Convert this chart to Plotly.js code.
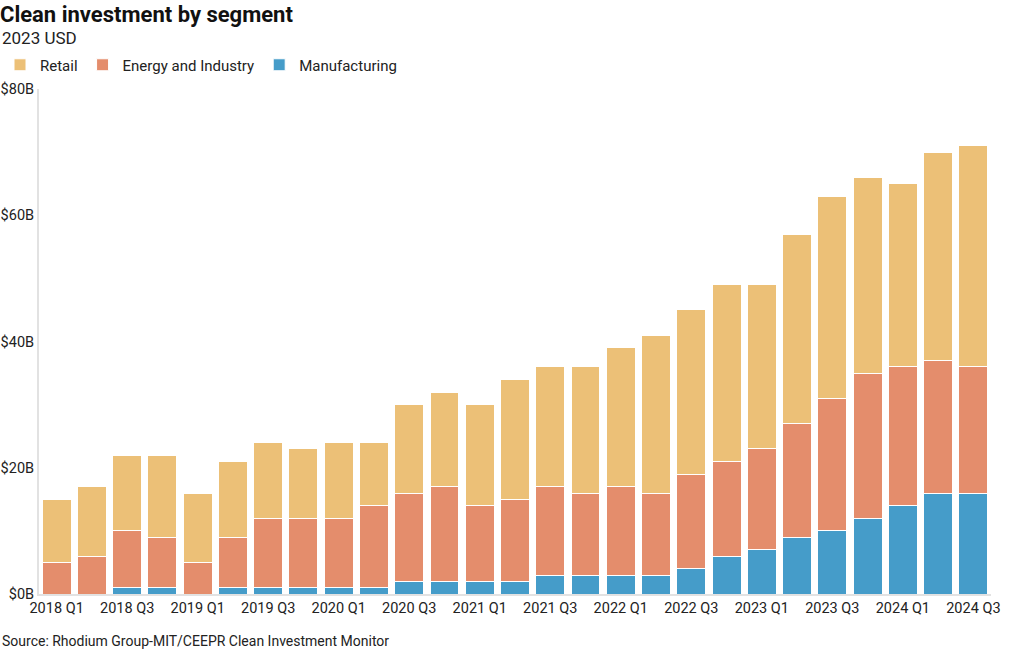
<!DOCTYPE html>
<html>
<head>
<meta charset="utf-8">
<script src="https://cdn.plot.ly/plotly-3.0.1.min.js"></script>
<style>html,body{margin:0;padding:0;background:#fff;}#chart{width:1020px;height:650px;}</style>
</head>
<body>
<div id="chart"></div>
<script>
const quarters = ["2018 Q1","2018 Q2","2018 Q3","2018 Q4","2019 Q1","2019 Q2","2019 Q3","2019 Q4",
  "2020 Q1","2020 Q2","2020 Q3","2020 Q4","2021 Q1","2021 Q2","2021 Q3","2021 Q4",
  "2022 Q1","2022 Q2","2022 Q3","2022 Q4","2023 Q1","2023 Q2","2023 Q3","2023 Q4",
  "2024 Q1","2024 Q2","2024 Q3"];
const manufacturing = [0,0,1,1,0,1,1,1,1,1,2,2,2,2,3,3,3,3,4,6,7,9,10,12,14,16,16];
const energyIndustry = [5,6,9,8,5,8,11,11,11,13,14,15,12,13,14,13,14,13,15,15,16,18,21,23,22,21,20];
const retail = [10,11,12,13,11,12,12,11,12,10,14,15,16,19,19,20,22,25,26,28,26,30,32,31,29,33,35];
const yTicks = [0,20,40,60,80];
const yTickLabels = yTicks.map(v => '$' + v + 'B');
const xTickLabels = quarters.filter((q,i)=>i%2===0);

const FONT = "Roboto, 'Noto Sans', sans-serif";
const W = 1020, H = 650;
const M = {l:39, r:29, t:89, b:56};
const plotW = W - M.l - M.r, plotH = H - M.t - M.b;
const px2x = p => (p - M.l)/plotW;
const px2y = p => (H - M.b - p)/plotH;

const line = {color:'#ffffff', width:1};
const traces = [
  {type:'bar', name:'Manufacturing', x:quarters, y:manufacturing, marker:{color:'#459CC9', line:line}},
  {type:'bar', name:'Energy and Industry', x:quarters, y:energyIndustry, marker:{color:'#E48D6C', line:line}},
  {type:'bar', name:'Retail', x:quarters, y:retail, marker:{color:'#ECC077', line:line}}
];

const layout = {
  width:W, height:H,
  margin:M,
  paper_bgcolor:'#fff', plot_bgcolor:'#fff',
  barmode:'stack', bargap:0.18,
  font:{family:FONT, size:14, color:'#222'},
  title:{text:'<b>Clean investment by segment</b>', font:{family:FONT, size:22, color:'#111'},
         x:0, xref:'container', xanchor:'left', y:1-14/H, yref:'container', yanchor:'middle'},
  legend:{orientation:'h', traceorder:'reversed', xref:'container', yref:'container',
          x:-28/W, xanchor:'left', y:1-65/H, yanchor:'middle',
          font:{family:FONT, size:15, color:'#222'}, bgcolor:'rgba(0,0,0,0)', itemwidth:30},
  xaxis:{type:'category', tickvals:xTickLabels, ticktext:xTickLabels, showgrid:false, zeroline:false,
         showline:true, linecolor:'#e2e2e2', linewidth:2, ticks:'', tickfont:{size:14.5, color:'#222'}},
  yaxis:{range:[0,80], tickvals:yTicks, ticktext:yTickLabels, showgrid:false, zeroline:false,
         showline:true, linecolor:'#e2e2e2', linewidth:2, ticks:'', tickfont:{size:14.5, color:'#222'}},
  annotations:[
    {text:'2023 USD', xref:'paper', yref:'paper', x:px2x(0), y:px2y(38), xanchor:'left', yanchor:'middle',
     showarrow:false, font:{family:FONT, size:17, color:'#222'}},
    {text:'Source: Rhodium Group-MIT/CEEPR Clean Investment Monitor', xref:'paper', yref:'paper',
     x:px2x(0), y:px2y(641), xanchor:'left', yanchor:'middle', showarrow:false,
     font:{family:FONT, size:14, color:'#222'}}
  ]
};
Plotly.newPlot('chart', traces, layout, {displayModeBar:false, staticPlot:true});
</script>
</body>
</html>
